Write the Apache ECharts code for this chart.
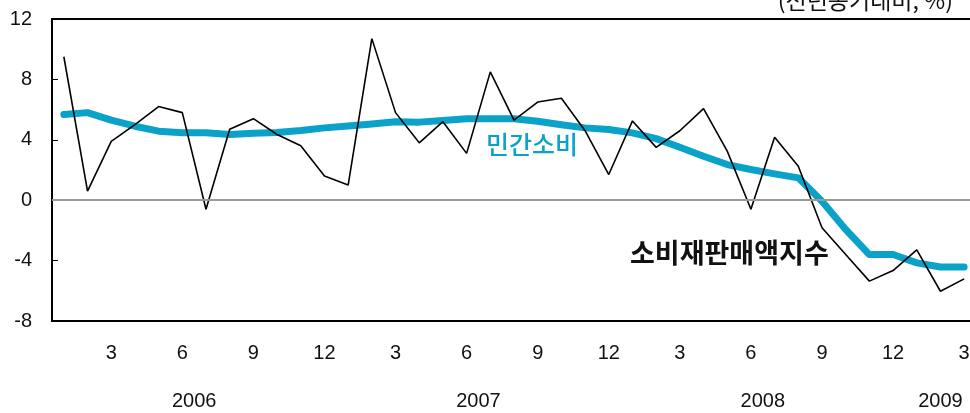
<!DOCTYPE html>
<html>
<head>
<meta charset="utf-8">
<script src="https://cdn.jsdelivr.net/npm/echarts@6/dist/echarts.min.js"></script>
<style>
  html, body { margin: 0; padding: 0; background: #fff; }
  #main { width: 970px; height: 413px; }
</style>
</head>
<body>
<div id="main"></div>
<script>
// 2006.1 ~ 2009.3 월별
const months = ["1", "2", "3", "4", "5", "6", "7", "8", "9", "10", "11", "12",
  "1", "2", "3", "4", "5", "6", "7", "8", "9", "10", "11", "12",
  "1", "2", "3", "4", "5", "6", "7", "8", "9", "10", "11", "12",
  "1", "2", "3"];
const years = ["2006", "2007", "2008", "2009"];
const yearPos = [5.5, 17.5, 29.5, 37];

// 소비재판매액지수 (전년동기대비, %)
const retailSales = [9.5, 0.6, 3.9, 5.0, 6.2, 5.8, -0.6, 4.7, 5.4, 4.35, 3.6, 1.6,
  1.0, 10.7, 5.8, 3.8, 5.2, 3.1, 8.5, 5.3, 6.5, 6.75, 4.6, 1.7,
  5.25, 3.5, 4.6, 6.07, 3.25, -0.6, 4.17, 2.25, -1.83, -3.6, -5.36, -4.66,
  -3.29, -6.03, -5.21];
// 민간소비 (전년동기대비, %)
const privateCons = [5.67, 5.8, 5.3, 4.9, 4.57, 4.46, 4.46, 4.35, 4.44, 4.48, 4.61, 4.79,
  4.92, 5.05, 5.19, 5.17, 5.28, 5.39, 5.39, 5.39, 5.23, 5.0, 4.79, 4.68,
  4.46, 4.08, 3.51, 2.91, 2.36, 2.03, 1.74, 1.48, -0.07, -1.94, -3.6, -3.6,
  -4.15, -4.42, -4.42];

const blue = "#0AA2C8";
const font = "Liberation Sans, Arial, sans-serif";
const krFont = "Noto Sans CJK KR";

const chart = echarts.init(document.getElementById("main"));
chart.setOption({
  animation: false,
  grid: {
    left: 52, top: 19, width: 924, height: 302,
    outerBoundsMode: "none",
    containLabel: false,
    show: true, borderColor: "#000", borderWidth: 2
  },
  xAxis: [
    {
      type: "category",
      data: months,
      boundaryGap: true,
      axisLine: { lineStyle: { color: "#000", width: 2 } },
      axisTick: { show: false },
      axisLabel: {
        interval: (i) => i % 3 === 2,
        margin: 22,
        fontSize: 20,
        fontFamily: font,
        color: "#111"
      },
      splitLine: { show: false }
    },
    {
      // 연도 표시용
      type: "value",
      position: "bottom",
      min: -0.5,
      max: 38.5,
      interval: 0.5,
      axisLine: { show: false },
      axisTick: { show: false },
      splitLine: { show: false },
      axisLabel: {
        margin: 70,
        fontSize: 20,
        fontFamily: font,
        color: "#111",
        showMinLabel: true,
        showMaxLabel: true,
        formatter: (v) => {
          const k = yearPos.indexOf(v);
          return k >= 0 ? years[k] : "";
        }
      }
    }
  ],
  yAxis: {
    type: "value",
    min: -8,
    max: 12,
    interval: 4,
    axisLine: { show: true, onZero: false, lineStyle: { color: "#000", width: 2 } },
    axisTick: { show: true, inside: true, length: 6, lineStyle: { color: "#000", width: 1 } },
    axisLabel: { margin: 20, fontSize: 20, fontFamily: font, color: "#111" },
    splitLine: { show: false }
  },
  series: [
    {
      name: "민간소비",
      type: "line",
      data: privateCons,
      symbol: "none",
      lineStyle: { color: blue, width: 7, cap: "round", join: "round" },
      z: 2,
      markLine: {
        silent: true,
        symbol: "none",
        label: { show: false },
        lineStyle: { color: "#999", width: 2, type: "solid" },
        data: [{ yAxis: 0 }]
      }
    },
    {
      name: "소비재판매액지수",
      type: "line",
      data: retailSales,
      symbol: "none",
      lineStyle: { color: "#000", width: 1.6 },
      z: 3
    }
  ],
  graphic: [
    {
      type: "text",
      right: 17,
      top: -11,
      style: { text: "(전년동기대비, %)", fontSize: 23, fontFamily: krFont, fill: "#111" }
    },
    {
      type: "text",
      left: 486,
      top: 132,
      style: { text: "민간소비", fontSize: 25, fontWeight: 500, fontFamily: krFont, fill: blue }
    },
    {
      type: "text",
      left: 630,
      top: 239,
      style: { text: "소비재판매액지수", fontSize: 27, fontWeight: "bold", fontFamily: krFont, fill: "#111" }
    }
  ]
});
</script>
</body>
</html>
